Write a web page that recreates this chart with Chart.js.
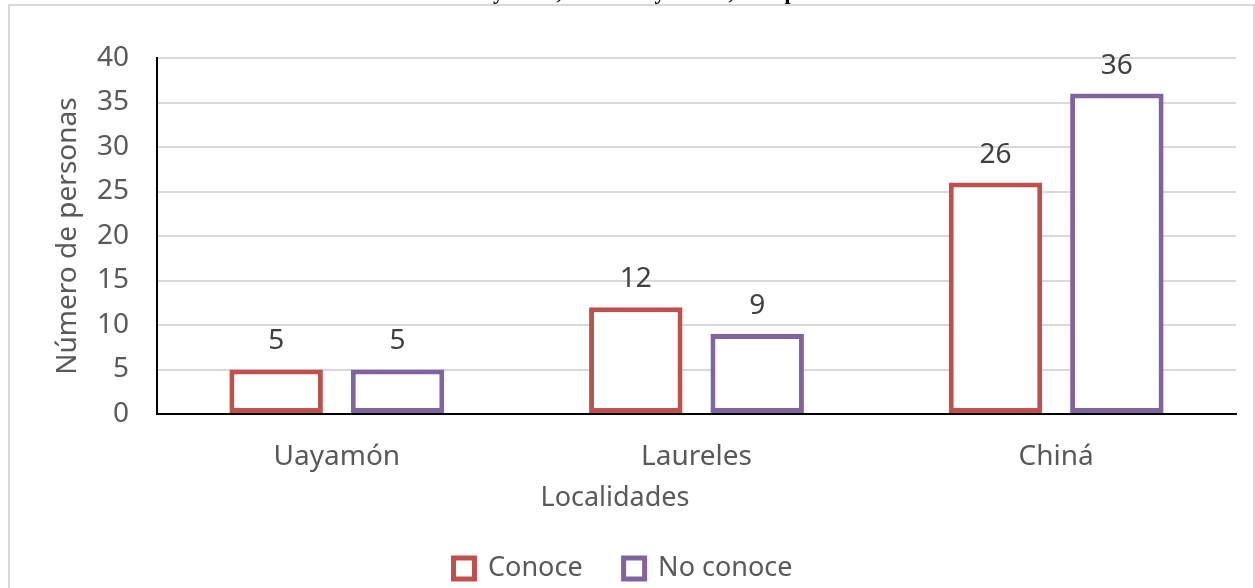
<!DOCTYPE html>
<html>
<head>
<meta charset="utf-8">
<script src="https://cdn.jsdelivr.net/npm/chart.js@4.4.1/dist/chart.umd.min.js"></script>
<style>
  html, body { margin: 0; padding: 0; background: #fff; }
  #wrap { width: 1255px; height: 588px; }
</style>
</head>
<body>
<div id="wrap"><canvas id="grafica" width="1255" height="588"></canvas></div>
<script>
// Localidades y respuestas
const localidades = ["Uayamón", "Laureles", "Chiná"];
const conoce = [5, 12, 26];
const noConoce = [5, 9, 36];
const yMax = 40;
const yPaso = 5;

const titulo = "Uayamón, Laureles y Chiná, Campeche";
const tituloX = "Localidades";
const fuente = "'Noto Sans', 'Open Sans', sans-serif";
const gris = "#595959";

// marco gris y título (cortado arriba)
const marco = {
    id: "marco",
    beforeDraw(chart) {
        const ctx = chart.ctx;
        ctx.save();
        ctx.fillStyle = "#fff";
        ctx.fillRect(0, 0, chart.width, chart.height);
        ctx.fillStyle = "#000";
        ctx.font = "bold 22px 'Liberation Serif'";
        ctx.textAlign = "left";
        ctx.textBaseline = "alphabetic";
        ctx.fillText(titulo, 466, -1);
        ctx.strokeStyle = "#d9d9d9";
        ctx.lineWidth = 2;
        ctx.strokeRect(9, 5, 1245, 600);
        ctx.restore();
    },
    // título del eje x, centrado en el gráfico completo y no en el área de barras
    afterDraw(chart) {
        const ctx = chart.ctx;
        ctx.save();
        ctx.font = "27px " + fuente;
        ctx.fillStyle = gris;
        ctx.textAlign = "center";
        ctx.textBaseline = "middle";
        ctx.fillText(tituloX, 615, chart.scales.x.top + 84);
        ctx.restore();
    },
};

// valores encima de cada barra
const etiquetas = {
    id: "etiquetas",
    afterDatasetsDraw(chart) {
        const ctx = chart.ctx;
        ctx.save();
        ctx.font = "28px " + fuente;
        ctx.fillStyle = "#404040";
        ctx.textAlign = "center";
        ctx.textBaseline = "middle";
        chart.data.datasets.forEach((ds, i) => {
            chart.getDatasetMeta(i).data.forEach((bar, j) => {
                ctx.fillText(String(ds.data[j]), bar.x, bar.y - 28);
            });
        });
        ctx.restore();
    },
};

new Chart(document.getElementById("grafica"), {
    type: "bar",
    data: {
        labels: localidades,
        datasets: [
            {
                label: "Conoce",
                data: conoce,
                backgroundColor: "#fff",
                borderColor: "#c0504d",
                borderWidth: 5,
                borderSkipped: false,
            },
            {
                label: "No conoce",
                data: noConoce,
                backgroundColor: "#fff",
                borderColor: "#8064a2",
                borderWidth: 5,
                borderSkipped: false,
            },
        ],
    },
    options: {
        responsive: false,
        animation: false,
        categoryPercentage: 0.675,
        barPercentage: 0.77,
        layout: {
            padding: { top: 58, right: 19, left: 10, bottom: -4 },
        },
        plugins: {
            legend: {
                position: "bottom",
                labels: {
                    boxWidth: 21,
                    boxHeight: 21,
                    padding: 41,
                    color: gris,
                    font: { family: fuente, size: 27 },
                },
            },
            tooltip: { enabled: false },
        },
        scales: {
            x: {
                grid: { display: false },
                border: { color: "#000", width: 2 },
                ticks: {
                    color: gris,
                    padding: 18,
                    font: { family: fuente, size: 28 },
                },
                afterFit: (s) => { s.height = 100; },
            },
            y: {
                min: 0,
                max: yMax,
                ticks: {
                    stepSize: yPaso,
                    color: gris,
                    padding: 28,
                    font: { family: fuente, size: 28 },
                },
                grid: { color: "#d9d9d9", lineWidth: 2, drawTicks: false },
                border: { color: "#000", width: 2 },
                title: {
                    display: true,
                    text: "Número de personas",
                    color: gris,
                    padding: { top: 41 },
                    font: { family: fuente, size: 28 },
                },
                afterFit: (s) => { s.width = 147; },
            },
        },
    },
    plugins: [marco, etiquetas],
});
</script>
</body>
</html>
